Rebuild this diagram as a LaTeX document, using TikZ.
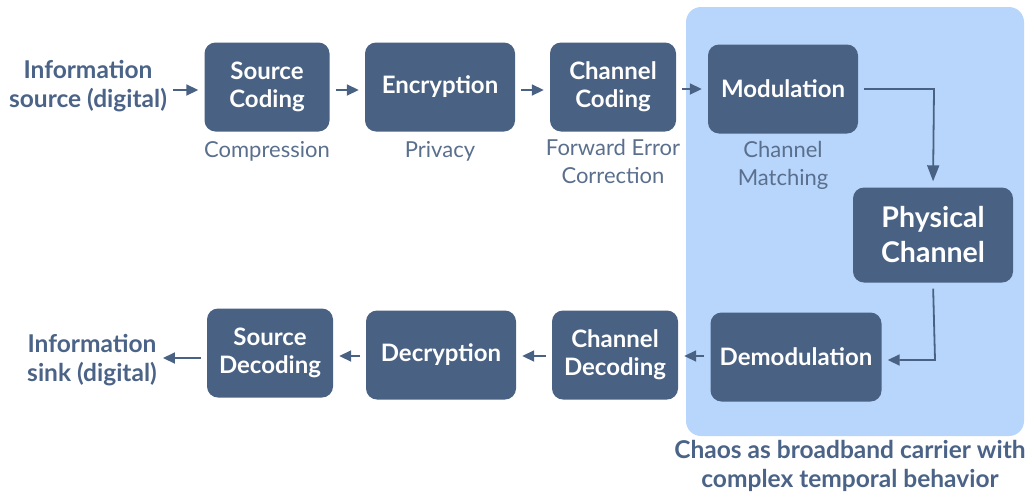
\documentclass[tikz,border=0pt]{standalone}
\usepackage{fontspec}
\setmainfont{Lato}
\usetikzlibrary{positioning,arrows.meta,backgrounds}
\definecolor{cBox}{RGB}{73,97,131}
\definecolor{cText}{RGB}{74,99,135}
\definecolor{cSub}{RGB}{90,111,141}
\definecolor{cBg}{RGB}{184,214,252}

\begin{document}
\begin{tikzpicture}[x=1pt, y=-1pt,
block/.style={rectangle, fill = cBox, rounded corners=11pt, align = center, inner sep = 0pt, minimum height = 89pt, text = white, font = \fontsize{24}{28}\selectfont\bfseries},
bigblock/.style={block, minimum height = 95pt, font = \fontsize{28.5}{35}\selectfont\bfseries},
sub/.style={align = center, inner sep = 0pt, text = cSub, font = \fontsize{22}{28}\selectfont},
ends/.style={align = center, inner sep = 0pt, text = cText, font = \fontsize{24.5}{29}\selectfont\bfseries},
post/.style={-{Triangle[length=12pt, width=11pt]}, draw = cBox, line width = 1.8pt, shorten >=6pt, shorten <=6pt},
longpost/.style={post, -{Triangle[length=16pt, width=12pt]}}]

\useasboundingbox (0,0) rectangle (1027,496);
\fill[cBg, rounded corners=15pt] (686,7) rectangle (1024,436);

% transmitter
\node[ends] (src) at (88,86) {Information\\source (digital)};
\node[block, minimum width = 125pt] (SC) at (267,87) {Source\\Coding};
\node[block, minimum width = 150pt] (Enc) at (440,87) {Encryption};
\node[block, minimum width = 126pt] (CC) at (613,87) {Channel\\Coding};
\node[block, minimum width = 150pt] (Mod) at (783,89) {Modulation};

\node[sub, below = 10pt of SC] {Compression};
\node[sub, below = 10pt of Enc] {Privacy};
\node[sub, below = 7pt of CC] {Forward Error\\Correction};
\node[sub, below = 7pt of Mod] {Channel\\Matching};

% channel
\node[bigblock, minimum width = 160pt] (Phy) at (933,235) {Physical\\Channel};

% receiver
\node[block, minimum width = 171pt] (Dem) at (796,357) {Demodulation};
\node[block, minimum width = 126pt] (CD) at (615,355) {Channel\\Decoding};
\node[block, minimum width = 150pt] (Dec) at (441,355) {Decryption};
\node[block, minimum width = 126pt] (SD) at (270,353) {Source\\Decoding};
\node[ends] (snk) at (92,360) {Information\\sink (digital)};

\node[ends] (chaos) at (850,466) {Chaos as broadband carrier with\\complex temporal behavior};

\coordinate (r1) at (0,90);
\coordinate (r2) at (0,356);
\coordinate (r3) at (0,358);
\coordinate (m1) at (934,89);
\coordinate (m2) at (935,360);

\path[post] (src.east |- r1) to (SC.west |- r1);
\path[post] (SC.east |- r1) to (Enc.west |- r1);
\path[post] (Enc.east |- r1) to (CC.west |- r1);
\path[post] (CC.east |- m1) to (Mod.west);
\draw[longpost] (Mod.east) -- (m1) -- (Phy.north);
\draw[post] (Phy.south) -- (m2) -- (Dem.east |- m2);
\path[post] (Dem.west |- r2) to (CD.east |- r2);
\path[post] (CD.west |- r2) to (Dec.east |- r2);
\path[post] (Dec.west |- r2) to (SD.east |- r2);
\path[post] (SD.west |- r3) to (snk.east |- r3);

\end{tikzpicture}
\end{document}
